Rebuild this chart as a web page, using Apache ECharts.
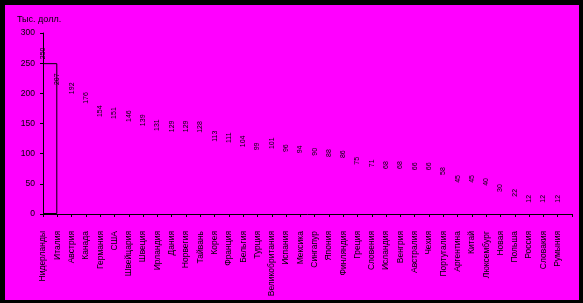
<!DOCTYPE html>
<html>
<head>
<meta charset="utf-8">
<script src="https://cdn.jsdelivr.net/npm/echarts@6/dist/echarts.min.js"></script>
<style>
  html, body { margin: 0; padding: 0; background: #000; }
  #wrap { position: relative; width: 583px; height: 303px; background: #000; overflow: hidden; }
  #chart { position: absolute; left: 5px; top: 5px; width: 574px; height: 295px; background: #ff00ff; }
</style>
</head>
<body>
<div id="wrap"><div id="chart"></div></div>
<script>
const categories = ['Нидерланды','Италия','Австрия','Канада','Германия','США','Швейцария','Швеция','Ирландия','Дания','Норвегия','Тайвань','Корея','Франция','Бельгия','Турция','Великобритания','Испания','Мексика','Сингапур','Япония','Финляндия','Греция','Словения','Исландия','Венгрия','Австралия','Чехия','Португалия','Аргентина','Китай','Люксембург','Новая','Польша','Россия','Словакия','Румыния'];
const values = [250,207,192,176,154,151,146,139,131,129,129,128,113,111,104,99,101,96,94,90,88,86,75,71,68,68,66,66,58,45,45,40,30,22,12,12,12];
const yTicks = { min: 0, max: 300, interval: 50 };
const unitLabel = 'Тыс. долл.';

const FONT = 'Liberation Sans, Arial, sans-serif';
const chart = echarts.init(document.getElementById('chart'), null, { renderer: 'canvas' });
chart.setOption({
  backgroundColor: '#ff00ff',
  animation: false,
  title: {
    text: unitLabel, left: 7, top: 5,
    textStyle: { fontSize: 9, fontWeight: 'normal', color: '#000', fontFamily: FONT }
  },
  grid: { left: 38, right: 7, top: 28, bottom: 86, containLabel: false },
  xAxis: [
    {
      type: 'category', data: categories, boundaryGap: true, position: 'bottom',
      axisLine: { show: true, lineStyle: { color: '#000', width: 1 } },
      axisTick: { show: true, length: 3, interval: 0, lineStyle: { color: '#000' } },
      axisLabel: { show: false }
    },
    {
      type: 'category', data: categories.concat(['']), boundaryGap: false, position: 'bottom',
      axisLine: { show: false }, axisTick: { show: false },
      axisLabel: { show: true, rotate: 90, interval: 0, margin: 17, fontSize: 8.5, color: '#000', fontFamily: FONT }
    }
  ],
  yAxis: {
    type: 'value', min: yTicks.min, max: yTicks.max, interval: yTicks.interval,
    axisLine: { show: true, lineStyle: { color: '#000', width: 1 } },
    axisTick: { show: true, length: 3, lineStyle: { color: '#000' } },
    splitLine: { show: false },
    axisLabel: { margin: 8, fontSize: 8.5, color: '#000', fontFamily: FONT }
  },
  series: [
    {
      type: 'bar', xAxisIndex: 0, barWidth: '100%',
      data: values.map((v, i) => i === 0 ? v : '-'),
      itemStyle: { color: 'rgba(0,0,0,0)', borderColor: '#000', borderWidth: 1 },
      silent: true
    },
    {
      type: 'bar', xAxisIndex: 1, barWidth: 1,
      data: values,
      itemStyle: { color: 'rgba(0,0,0,0)' },
      label: {
        show: true, position: 'top', rotate: 90, align: 'left', verticalAlign: 'middle',
        distance: 4, fontSize: 7, color: '#000', fontFamily: FONT
      },
      silent: true
    }
  ]
});
</script>
</body>
</html>
